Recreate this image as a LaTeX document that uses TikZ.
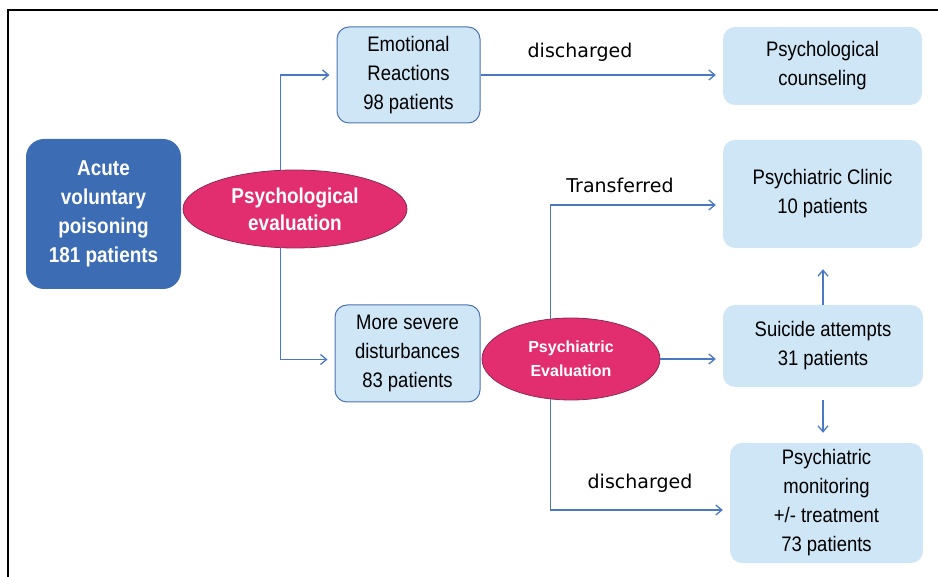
\documentclass[tikz,border=0pt]{standalone}
\usepackage{fontspec}
\setmainfont{Liberation Sans}
\newfontfamily\boxfont{Liberation Sans}[FakeStretch=0.88]
\newfontfamily\labelfont{DejaVu Sans}
\usepackage{tikz}
\usetikzlibrary{shapes.geometric}
\usetikzlibrary{arrows.meta}
\definecolor{acuteblue}{HTML}{3B6CB4}
\definecolor{evalpink}{HTML}{E22E6E}
\definecolor{evaledge}{HTML}{8C2A5A}
\definecolor{paleblue}{HTML}{CFE6F6}
\definecolor{boxedge}{HTML}{4F74B0}
\definecolor{flowblue}{HTML}{4A78C2}

\begin{document}
\begin{tikzpicture}[x=1pt,y=-1pt,
	startbox/.style={rectangle,rounded corners=18pt,fill=acuteblue,text=white,align=center,inner sep=0pt,
		font=\boxfont\bfseries\fontsize{21.5}{29}\selectfont},
	evalbubble/.style={ellipse,fill=evalpink,draw=evaledge,line width=0.8pt,text=white,align=center,inner sep=0pt},
	stagebox/.style={rectangle,rounded corners=12pt,fill=paleblue,draw=boxedge,line width=1pt,align=center,inner sep=0pt,
		font=\boxfont\fontsize{21}{29}\selectfont},
	outbox/.style={rectangle,rounded corners=12pt,fill=paleblue,align=center,inner sep=0pt,
		font=\boxfont\fontsize{21}{29}\selectfont},
	flowlabel/.style={font=\labelfont\fontsize{19}{22}\selectfont},
	flow/.style={draw=flowblue,line width=1.3pt,-{Straight Barb[length=6pt,width=10pt]},shorten >=7pt}]
	\useasboundingbox (0,0) rectangle (938,577);
	\draw[line width=1.2pt] (8,577) -- (8,10) -- (938,10);
	\node[startbox,minimum width=155pt,minimum height=150pt] (acute) at (103.5,214) {Acute\\voluntary\\poisoning\\181 patients};
	\node[evalbubble,minimum width=224pt,minimum height=78pt,font=\boxfont\bfseries\fontsize{21.5}{27}\selectfont] (psychol) at (295,209) {Psychological\\evaluation};
	\node[stagebox,minimum width=143pt,minimum height=96pt] (emo) at (408.5,75) {Emotional\\Reactions\\98 patients};
	\node[stagebox,minimum width=145pt,minimum height=97pt] (severe) at (407.5,353.5) {More severe\\disturbances\\83 patients};
	\node[outbox,minimum width=199pt,minimum height=78pt] (couns) at (822.5,66) {Psychological\\counseling};
	\node[outbox,minimum width=199pt,minimum height=108pt] (clinic) at (822.5,194) {Psychiatric Clinic\\10 patients};
	\node[evalbubble,minimum width=178pt,minimum height=82pt,font=\bfseries\fontsize{16}{24}\selectfont] (psychia) at (571,359) {Psychiatric\\Evaluation};
	\node[outbox,minimum width=200pt,minimum height=82pt] (suicide) at (823,346) {Suicide attempts\\31 patients};
	\node[outbox,minimum width=193pt,minimum height=120pt] (monitor) at (826.5,503) {Psychiatric\\monitoring\\+/- treatment\\73 patients};
	\node[flowlabel] (dis1) at (580,52) {discharged};
	\node[flowlabel] (trans) at (620,185) {Transferred};
	\node[flowlabel] (dis2) at (640,483) {discharged};
	\draw[flow] (psychol.110) |- (emo.west);
	\draw[flow] (psychol.250) |- ([yshift=-6pt]severe.west);
	\draw[flow] (emo.east) -- (emo.east -| couns.west);
	\draw[flow] (psychia.117) |- ([yshift=-11pt]clinic.west);
	\draw[flow] (psychia.east) -- (psychia.east -| suicide.west);
	\draw[flow] (psychia.243) |- ([yshift=-7pt]monitor.west);
	\draw[flow,shorten >=21pt] (suicide.north) -- (suicide.north |- clinic.south);
	\draw[flow,shorten <=13pt,shorten >=10pt] (suicide.south) -- (suicide.south |- monitor.north);
\end{tikzpicture}
\end{document}
